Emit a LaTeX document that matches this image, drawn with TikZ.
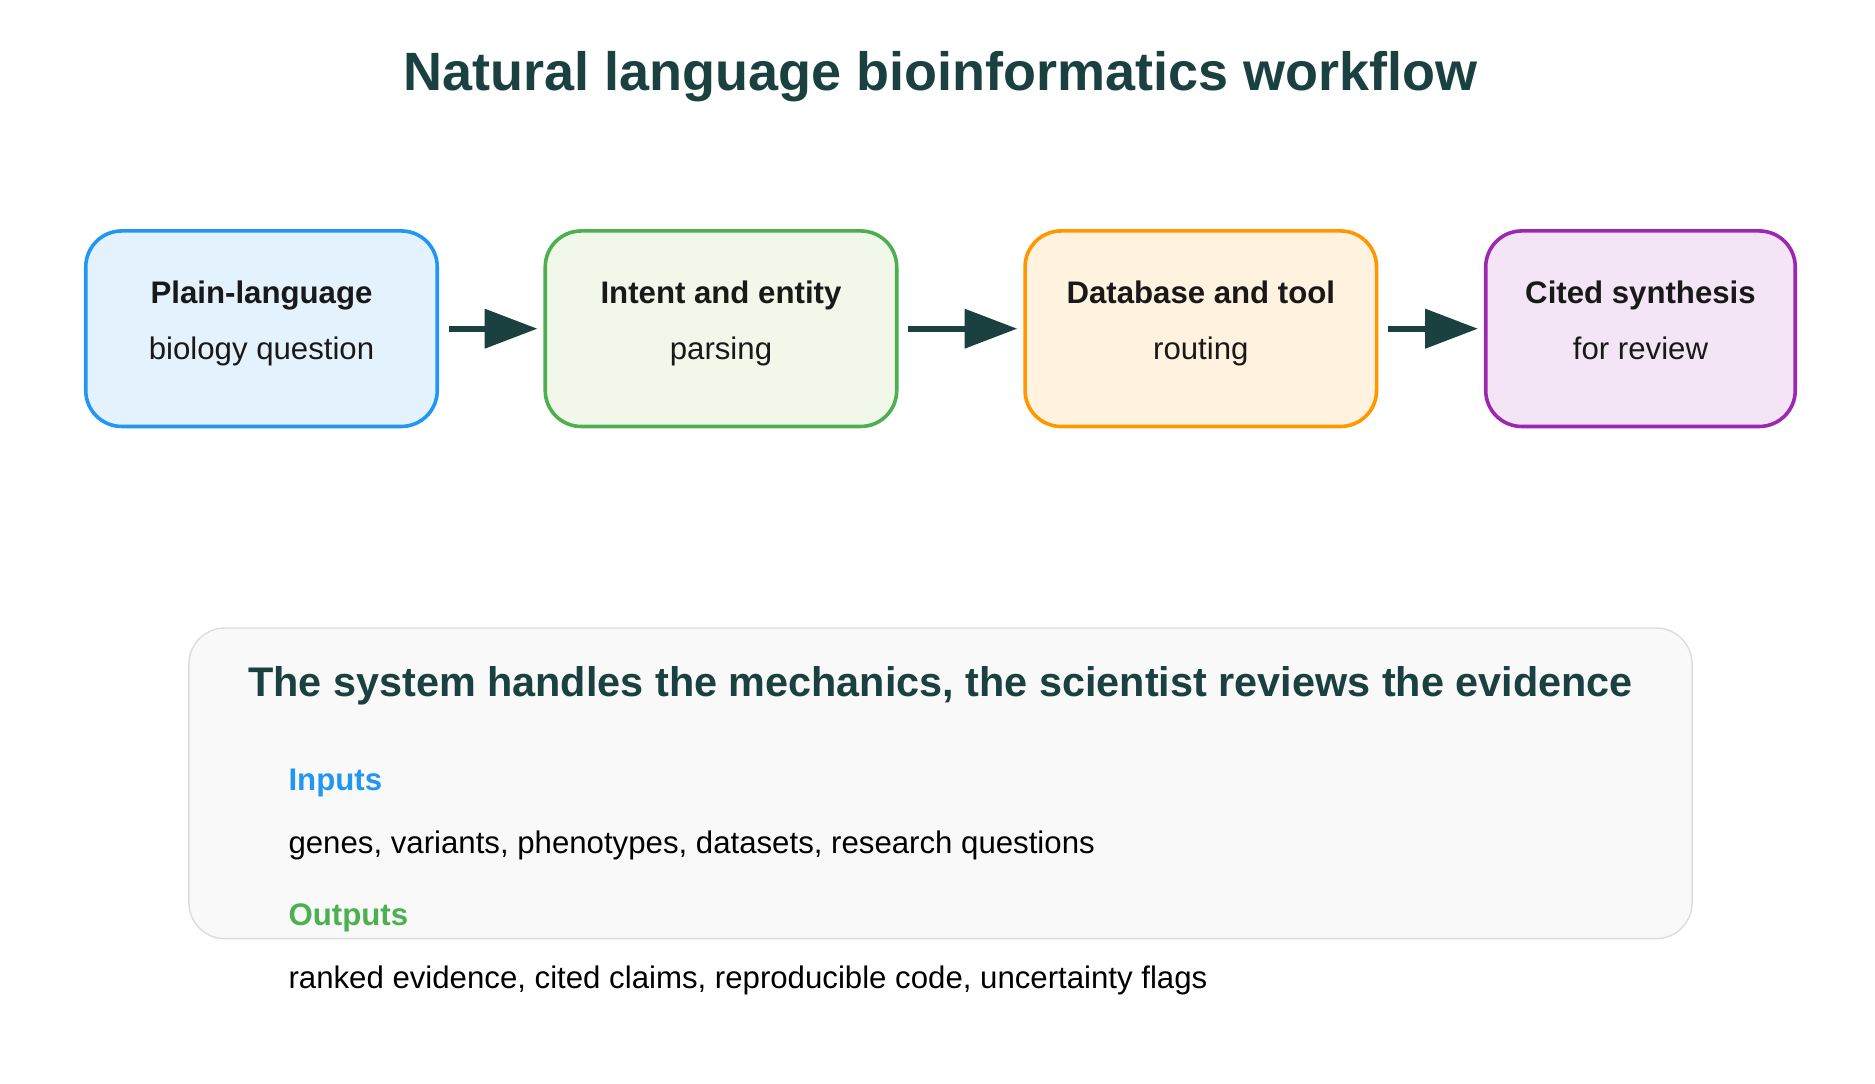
\documentclass[tikz,border=0pt]{standalone}
\usepackage{fontspec}
\setmainfont{Liberation Sans}
\usetikzlibrary{positioning,arrows.meta}
\definecolor{ink}{HTML}{1B4040}
\definecolor{blueline}{HTML}{2196F3}\definecolor{bluefill}{HTML}{E3F2FD}
\definecolor{greenline}{HTML}{4CAF50}\definecolor{greenfill}{HTML}{F1F8E9}
\definecolor{orangeline}{HTML}{FF9800}\definecolor{orangefill}{HTML}{FFF3E0}
\definecolor{purpleline}{HTML}{9C27B0}\definecolor{purplefill}{HTML}{F3E5F5}
\definecolor{panelfill}{HTML}{F9F9F9}\definecolor{panelline}{HTML}{DDDDDD}
\tikzset{
  step/.style={draw=#1line, fill=#1fill, line width=3pt, rounded corners=30pt,
    minimum height=163pt, align=center, text=black!90,
    font=\fontsize{26}{47}\selectfont},
  flow/.style={draw=ink, line width=5pt, -{Triangle[length=44pt,width=32pt]},
    shorten <=8pt, shorten >=5pt},
  line/.style={anchor=west, font=\fontsize{26}{30}\selectfont}
}
\newcommand{\twoline}[2]{\textbf{#1}\rule[-6pt]{0pt}{20pt}\\#2\rule[-6pt]{0pt}{20pt}\vspace{8pt}}
\begin{document}
\begin{tikzpicture}[x=1pt,y=-1pt]
    \useasboundingbox (0,0) rectangle (1563,903);

    % Title
    \node (title) at (784,64) {\fontsize{45}{52}\selectfont\bfseries\color{ink}Natural language bioinformatics workflow};

    % Workflow steps
    \node[step=blue, minimum width=293pt] (ask) at (218,274) {\twoline{Plain-language}{biology question}};
    \node[step=green, minimum width=293pt] (parse) at (601,274) {\twoline{Intent and entity}{parsing}};
    \node[step=orange, minimum width=293pt] (route) at (1001,274) {\twoline{Database and tool}{routing}};
    \node[step=purple, minimum width=258pt] (cite) at (1367.5,274) {\twoline{Cited synthesis}{for review}};

    \draw[flow] (ask) -- (parse);
    \draw[flow] (parse) -- (route);
    \draw[flow] (route) -- (cite);

    % Summary panel
    \node[draw=panelline, fill=panelfill, line width=1.2pt, rounded corners=30pt,
      minimum width=1253pt, minimum height=259pt] (panel) at (784,653) {};
    \node (motto) at (784,572) {\fontsize{34.5}{40}\selectfont\bfseries\color{ink}The system handles the mechanics, the scientist reviews the evidence};
    \node[line, text=blueline, font=\fontsize{26}{30}\selectfont\bfseries] (inlabel) at (237,653) {Inputs};
    \node[line] (intext) at (237,705) {genes, variants, phenotypes, datasets, research questions};
    \node[line, text=greenline, font=\fontsize{26}{30}\selectfont\bfseries] (outlabel) at (237,765) {Outputs};
    \node[line] (outtext) at (237,817) {ranked evidence, cited claims, reproducible code, uncertainty flags};
\end{tikzpicture}
\end{document}
